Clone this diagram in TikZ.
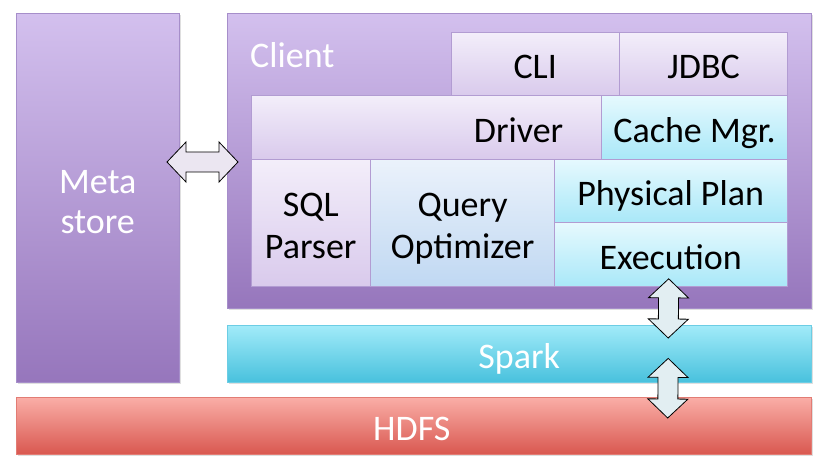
\documentclass[tikz,border=0pt]{standalone}
\usepackage{fontspec}
\setmainfont{Carlito}
\usetikzlibrary{positioning,shadows,calc}
\definecolor{purpletop}{HTML}{D3C0EE}
\definecolor{purplebot}{HTML}{9676BC}
\definecolor{purpleline}{HTML}{A68ECA}
\definecolor{lavtop}{HTML}{F3EEFA}
\definecolor{lavbot}{HTML}{D9CAEC}
\definecolor{lavline}{HTML}{B29CD2}
\definecolor{cyantop}{HTML}{E6F9FE}
\definecolor{cyanbot}{HTML}{A9E8F8}
\definecolor{opttop}{HTML}{EBF2FB}
\definecolor{optbot}{HTML}{C0D8F2}
\definecolor{sparktop}{HTML}{A2EBF9}
\definecolor{sparkbot}{HTML}{48C1DD}
\definecolor{sparkline}{HTML}{6CCDE4}
\definecolor{hdfstop}{HTML}{FAAEA7}
\definecolor{hdfsbot}{HTML}{D95850}
\definecolor{hdfsline}{HTML}{E27C74}
\definecolor{arrowfill}{HTML}{EBE6F1}
\definecolor{arrowfillb}{HTML}{E2EEF2}

\tikzset{
  box/.style={rectangle, draw, inner sep=0pt, text height=30pt, text depth=0pt, anchor=north west, align=center},
  twolines/.style={text height=72pt},
  layer/.style={box, text=white, drop shadow={shadow xshift=1.5pt, shadow yshift=-2pt, opacity=0.25}},
  outerbox/.style={layer, draw=purpleline, top color=purpletop, bottom color=purplebot},
  lavbox/.style={box, draw=lavline, top color=lavtop, bottom color=lavbot},
  cyanbox/.style={box, draw=lavline, top color=cyantop, bottom color=cyanbot},
  optbox/.style={box, draw=lavline, top color=opttop, bottom color=optbot},
  fatarrow/.style={draw=black, line width=0.8pt, line join=miter, fill=arrowfill}
}

% two-headed block arrow between two named points: [style]{from}{to}
\newcommand\blockarrow[3][]{%
  \draw[fatarrow,#1] (#2)
    -- ($(#2)!19pt!(#3)!20pt!90:(#3)$) -- ($(#2)!19pt!(#3)!10pt!90:(#3)$)
    -- ($(#3)!19pt!(#2)!10pt!-90:(#2)$) -- ($(#3)!19pt!(#2)!20pt!-90:(#2)$)
    -- (#3)
    -- ($(#3)!19pt!(#2)!20pt!90:(#2)$) -- ($(#3)!19pt!(#2)!10pt!90:(#2)$)
    -- ($(#2)!19pt!(#3)!10pt!-90:(#3)$) -- ($(#2)!19pt!(#3)!20pt!-90:(#3)$)
    -- cycle;}

\begin{document}
\begin{tikzpicture}[x=1pt, y=-1pt, font=\fontsize{36}{42}\selectfont]
\useasboundingbox (0,0) rectangle (823,468);

% Metastore e Client
\node[outerbox, twolines, minimum width=163pt, minimum height=369pt] (meta) at (16,13) {Meta\\[-2pt]store};
\node[outerbox, minimum width=584pt, minimum height=295pt] (client) at (227,13) {};
\node[anchor=west, text=white, inner sep=0pt] (clientlbl) at (250,55) {Client};

% interfacce
\node[lavbox, minimum width=168pt, minimum height=63pt] (cli) at (451,32) {CLI};
\node[lavbox, minimum width=168pt, minimum height=63pt, right=0pt of cli] (jdbc) {JDBC};

% driver
\node[lavbox, minimum width=350pt, minimum height=64pt, text width=274pt, align=right] (driver) at (251,95) {Driver};
\node[cyanbox, minimum width=186pt, minimum height=64pt, right=0pt of driver] (cache) {Cache Mgr.};

% pipeline
\node[lavbox, twolines, minimum width=119pt, minimum height=127pt] (parser) at (251,159) {SQL\\Parser};
\node[optbox, twolines, minimum width=184pt, minimum height=127pt, right=0pt of parser] (optimizer) {Query\\Optimizer};
\node[cyanbox, minimum width=233pt, minimum height=63pt] (plan) at (554,159) {Physical Plan};
\node[cyanbox, minimum width=233pt, minimum height=64pt, below=0pt of plan] (exec) {Execution};

% livelli sotto
\node[layer, draw=sparkline, top color=sparktop, bottom color=sparkbot, minimum width=584pt, minimum height=57pt] (spark) at (227,325) {Spark};
\node[layer, draw=hdfsline, top color=hdfstop, bottom color=hdfsbot, minimum width=795pt, minimum height=57pt, text width=795pt, align=left] (hdfs) at (16,397) {\hspace{357pt}HDFS};

% frecce
\coordinate (mc1) at (167,162);
\coordinate (mc2) at (238,162);
\coordinate (es1) at ($(exec.south)+(-2,-8)$);
\coordinate (es2) at ($(spark.north)+(149,13)$);
\coordinate (sh1) at ($(spark.south)+(149,-24)$);
\coordinate (sh2) at ($(hdfs.north)+(254,21)$);
\blockarrow{mc1}{mc2}
\blockarrow[fill=arrowfillb]{es1}{es2}
\blockarrow[fill=arrowfillb]{sh1}{sh2}
\end{tikzpicture}
\end{document}
